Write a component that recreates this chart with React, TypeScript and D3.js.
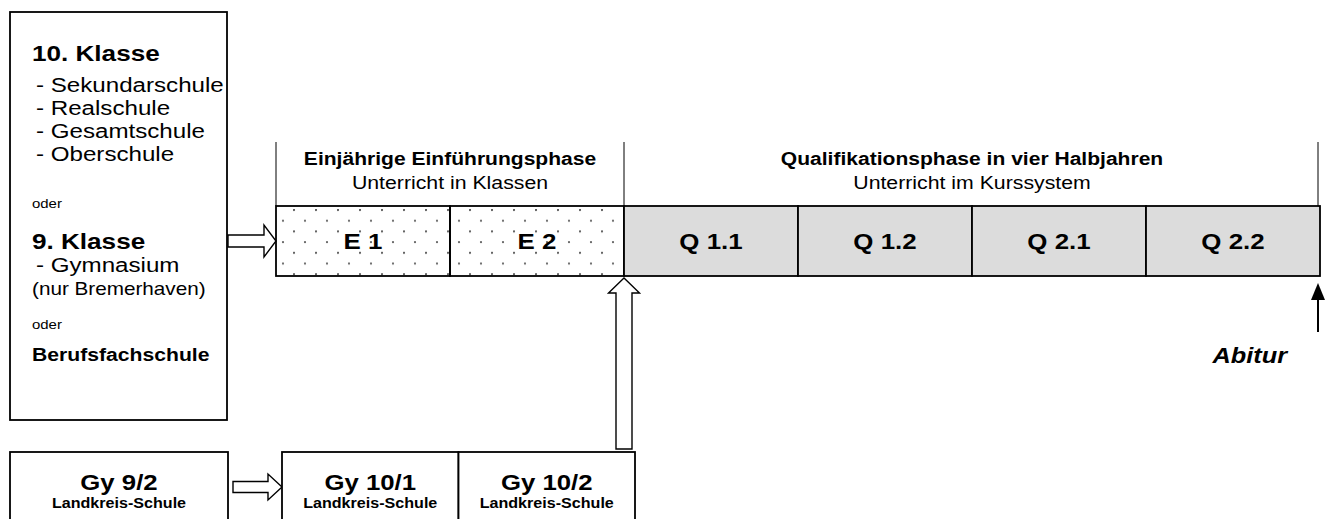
import * as d3 from 'd3';

// entry paths into the upper secondary level
const entryTitles = ['10. Klasse', '9. Klasse', 'Berufsfachschule'];
const schools10 = ['Sekundarschule', 'Realschule', 'Gesamtschule', 'Oberschule'];
const schools9 = ['Gymnasium'];
const note9 = '(nur Bremerhaven)';
const connector = 'oder';

// phases and half-years
const phaseTitles = ['Einjährige Einführungsphase', 'Qualifikationsphase in vier Halbjahren'];
const phaseSubs = ['Unterricht in Klassen', 'Unterricht im Kurssystem'];
const phaseSpans = [2, 4];
const semesters = ['E 1', 'E 2', 'Q 1.1', 'Q 1.2', 'Q 2.1', 'Q 2.2'];
const dotted = ['E 1', 'E 2'];

// county school path
const countySteps = ['Gy 9/2', 'Gy 10/1', 'Gy 10/2'];
const countyNote = 'Landkreis-Schule';
const finalLabel = 'Abitur';

const W = 1329;
const H = 519;
const FONT = "'Liberation Sans', Arial, Helvetica, sans-serif";
const SX = 1.15; // reference glyphs are slightly wider than Arial

function T({ x, y, size, bold = false, italic = false, anchor = 'start', children }: any) {
  return (
    <text
      transform={`translate(${x},${y}) scale(${SX},1)`}
      fontSize={size}
      fontWeight={bold ? 700 : 400}
      fontStyle={italic ? 'italic' : 'normal'}
      textAnchor={anchor}
      fontFamily={FONT}
      fill="#000"
    >
      {children}
    </text>
  );
}

function hArrow(x0: number, x1: number, y: number, h: number, hh: number, len: number) {
  const p = d3.path();
  p.moveTo(x0, y - h);
  p.lineTo(x1 - len, y - h);
  p.lineTo(x1 - len, y - hh);
  p.lineTo(x1, y);
  p.lineTo(x1 - len, y + hh);
  p.lineTo(x1 - len, y + h);
  p.lineTo(x0, y + h);
  p.closePath();
  return p.toString();
}

function vArrow(x: number, y0: number, y1: number, w: number, hw: number, len: number) {
  const p = d3.path();
  p.moveTo(x - w, y0);
  p.lineTo(x - w, y1 + len);
  p.lineTo(x - hw, y1 + len);
  p.lineTo(x, y1);
  p.lineTo(x + hw, y1 + len);
  p.lineTo(x + w, y1 + len);
  p.lineTo(x + w, y0);
  p.closePath();
  return p.toString();
}

export default function App() {
  // main row of half-years
  const row = { top: 206, bottom: 276 };
  const x = d3.scaleBand<string>().domain(semesters).range([276, 1320]).paddingInner(0).paddingOuter(0);
  const rowMid = (row.top + row.bottom) / 2;

  // phase header extents
  let idx = 0;
  const phases = phaseTitles.map((t, i) => {
    const start = x(semesters[idx])!;
    idx += phaseSpans[i];
    const end = idx < semesters.length ? x(semesters[idx])! : x.range()[1];
    return { title: t, sub: phaseSubs[i], start, end };
  });

  // bottom county boxes
  const gx = d3.scaleBand<string>().domain(countySteps.slice(1)).range([282, 635]);
  const gTop = 452;

  // left box layout
  const left = { x0: 10, x1: 227, y0: 12, y1: 420 };
  const lineY = d3.scaleLinear().domain([0, 1]).range([92, 115]);

  return (
    <svg width={W} height={H} style={{ position: 'absolute', left: 0, top: 0, background: '#fff' }}>
      <defs>
        <pattern id="dots" patternUnits="userSpaceOnUse" width={22} height={21.4} x={7} y={209}>
          <circle cx={1} cy={1} r={1.1} fill="#555" />
          <circle cx={12} cy={11.7} r={1.1} fill="#555" />
        </pattern>
      </defs>

      {/* entry box */}
      <rect x={left.x0} y={left.y0} width={left.x1 - left.x0} height={left.y1 - left.y0} fill="#fff" stroke="#000" strokeWidth={1.8} />
      <T x={32} y={61} size={22.7} bold>{entryTitles[0]}</T>
      {schools10.map((s, i) => (
        <T key={s} x={36} y={lineY(i)} size={21}>{'- ' + s}</T>
      ))}
      <T x={32} y={208} size={13}>{connector}</T>
      <T x={32} y={249} size={22.7} bold>{entryTitles[1]}</T>
      {schools9.map(s => (
        <T key={s} x={36} y={272} size={21}>{'- ' + s}</T>
      ))}
      <T x={32} y={295} size={18}>{note9}</T>
      <T x={32} y={329} size={13}>{connector}</T>
      <T x={32} y={361} size={18.4} bold>{entryTitles[2]}</T>

      {/* arrow into E 1 */}
      <path d={hArrow(228, x(semesters[0])!, rowMid, 6, 16, 12)} fill="#fff" stroke="#000" strokeWidth={1.4} />

      {/* phase headers */}
      {phases.map(p => (
        <g key={p.title}>
          <line x1={p.start} x2={p.start} y1={142} y2={row.top} stroke="#000" strokeWidth={1} />
          <T x={(p.start + p.end) / 2} y={165} size={18.3} bold anchor="middle">{p.title}</T>
          <T x={(p.start + p.end) / 2} y={189} size={18.5} anchor="middle">{p.sub}</T>
        </g>
      ))}
      <line x1={1318} x2={1318} y1={142} y2={row.top} stroke="#000" strokeWidth={1} />

      {/* half-year cells */}
      {semesters.map(s => (
        <g key={s}>
          <rect
            x={x(s)}
            y={row.top}
            width={x.bandwidth()}
            height={row.bottom - row.top}
            fill={dotted.includes(s) ? 'url(#dots)' : '#dcdcdc'}
            stroke="#000"
            strokeWidth={1.8}
          />
          <T x={x(s)! + x.bandwidth() / 2} y={rowMid + 8} size={22.5} bold anchor="middle">{s}</T>
        </g>
      ))}

      {/* Abitur */}
      <line x1={1318} x2={1318} y1={332} y2={296} stroke="#000" strokeWidth={2} />
      <path d={`M1318,283 L1311,300 L1325,300 Z`} fill="#000" />
      <T x={1287} y={363} size={22} bold italic anchor="end">{finalLabel}</T>

      {/* county path */}
      <rect x={10} y={gTop} width={218} height={100} fill="#fff" stroke="#000" strokeWidth={1.8} />
      <T x={119} y={490} size={22.4} bold anchor="middle">{countySteps[0]}</T>
      <T x={119} y={508} size={14} bold anchor="middle">{countyNote}</T>
      <path d={hArrow(233, gx(countySteps[1])!, 487, 5.5, 13, 14)} fill="#fff" stroke="#000" strokeWidth={1.4} />
      {countySteps.slice(1).map(s => (
        <g key={s}>
          <rect x={gx(s)} y={gTop} width={gx.bandwidth()} height={100} fill="#fff" stroke="#000" strokeWidth={1.8} />
          <T x={gx(s)! + gx.bandwidth() / 2} y={490} size={22.4} bold anchor="middle">{s}</T>
          <T x={gx(s)! + gx.bandwidth() / 2} y={508} size={14} bold anchor="middle">{countyNote}</T>
        </g>
      ))}

      {/* arrow from Gy 10/2 up to the qualification phase */}
      <path d={vArrow(x(semesters[2])!, 449, row.bottom + 2, 8, 15.5, 15)} fill="#fff" stroke="#000" strokeWidth={1.4} />
    </svg>
  );
}
